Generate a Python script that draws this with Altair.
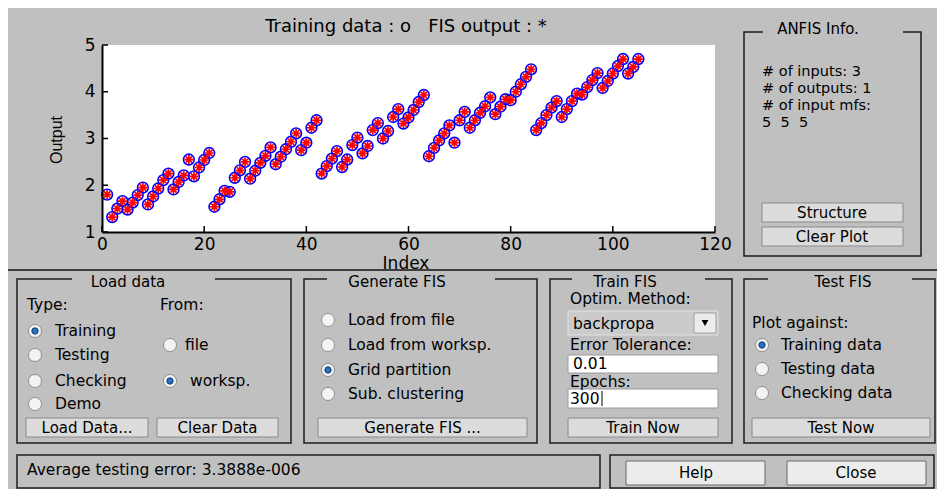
import altair as alt
import pandas as pd

# ---------------- chart data ----------------
sample_index = list(range(1, 106))
training_output = [
    1.80, 1.32, 1.50, 1.66, 1.48, 1.63, 1.79, 1.95, 1.59, 1.76,
    1.93, 2.11, 2.25, 1.91, 2.07, 2.21, 2.55, 2.19, 2.38, 2.54, 2.69,
    1.54, 1.70, 1.88, 1.86, 2.16, 2.32, 2.50, 2.14, 2.31, 2.48,
    2.63, 2.81, 2.45, 2.61, 2.77, 2.93, 3.11, 2.75, 2.91, 3.23, 3.39,
    2.25, 2.41, 2.57, 2.73, 2.39, 2.55, 2.86, 3.02, 2.68, 2.84,
    3.18, 3.33, 3.00, 3.16, 3.46, 3.63, 3.32, 3.45, 3.61, 3.78, 3.93,
    2.62, 2.80, 2.96, 3.11, 3.28, 2.91, 3.39, 3.57, 3.23, 3.39,
    3.55, 3.69, 3.88, 3.52, 3.68, 3.84, 3.82, 4.00, 4.16, 4.32, 4.48,
    3.18, 3.33, 3.50, 3.66, 3.80, 3.46, 3.63, 3.80, 3.96, 3.94,
    4.10, 4.25, 4.40, 4.08, 4.23, 4.39, 4.55, 4.70, 4.39, 4.53, 4.70,
]
fis_output = list(training_output)   # FIS output lies on the training data
x_ticks = [0, 20, 40, 60, 80, 100, 120]
y_ticks = [1, 2, 3, 4, 5]

chart_title = "Training data : o\u00a0\u00a0\u00a0FIS output : *"
x_title = "Index"
y_title = "Output"
info_lines = ["# of inputs: 3", "# of outputs: 1", "# of input mfs:", "5\u00a0\u00a05\u00a0\u00a05"]
status_text = "Average testing error: 3.3888e-006"

# ---------------- layout (pixel positions of the GUI) ----------------
PL, PT, PW, PH = 102, 45, 613, 187
GRAY = "#c0c0c0"
FONT = "DejaVu Sans"

SX = alt.Scale(domain=[0, 120], nice=False, zero=False)
SY = alt.Scale(domain=[1, 5], nice=False, zero=False)
DX = alt.Scale(domain=[0, 945], range=[-PL, 945 - PL], nice=False, zero=False)
DY = alt.Scale(domain=[0, 497], range=[-PT, 497 - PT], nice=False, zero=False)


def rects(rows, **mark):
    df = pd.DataFrame(rows, columns=["x", "y", "x2", "y2"])
    return alt.Chart(df).mark_rect(**mark).encode(
        x=alt.X("x:Q", scale=DX, axis=None), x2="x2:Q",
        y=alt.Y("y:Q", scale=DY, axis=None), y2="y2:Q")


def texts(rows, align="left", size=15, font=FONT, **mark):
    df = pd.DataFrame(rows, columns=["t", "x", "y"])
    return alt.Chart(df).mark_text(align=align, baseline="middle", font=font,
                                   fontSize=size, color="#000000", **mark).encode(
        x=alt.X("x:Q", scale=DX, axis=None),
        y=alt.Y("y:Q", scale=DY, axis=None),
        text="t:N")


def points(rows, **mark):
    df = pd.DataFrame(rows, columns=["x", "y"])
    return alt.Chart(df).mark_point(**mark).encode(
        x=alt.X("x:Q", scale=DX, axis=None),
        y=alt.Y("y:Q", scale=DY, axis=None))


bg = rects([(8, 8, 937, 489)], color=GRAY)
sep = rects([(8, 269, 937, 271)], color="#3e3e3e")
plot_bg = rects([(PL, PT, PL + PW, PT + PH)], color="#ffffff")
frames = rects([(17, 279, 291, 443), (304, 279, 537, 443), (550, 279, 732, 443),
                (744, 279, 935, 443), (744, 32, 921, 256),
                (17, 455, 600, 488), (610, 455, 934, 488)],
               fillOpacity=0, stroke="#1c1c1c", strokeWidth=1.5)
gaps = rects([(72, 275, 215, 283), (327, 275, 495, 283), (572, 275, 705, 283),
              (768, 275, 912, 283), (763, 28, 903, 36)], color=GRAY)
buttons = rects([(26, 418, 148, 437), (157, 418, 278, 437), (318, 418, 527, 437),
                 (568, 418, 718, 437), (752, 418, 930, 437),
                 (762, 203, 903, 222), (762, 227, 903, 246)],
                fill="#dcdcdc", stroke="#8a8a8a", strokeWidth=1)
big_buttons = rects([(626, 461, 765, 485), (787, 461, 926, 485)],
                    fill="#ececec", stroke="#6a6a6a", strokeWidth=1)
dropdown = rects([(568, 311, 718, 335)], fill="#cbcbcb", stroke="#e2e2e2", strokeWidth=1)
drop_btn = rects([(694, 313, 716, 333)], fill="#ececec", stroke="#a0a0a0", strokeWidth=1)
edits = rects([(568, 355, 718, 373), (568, 389, 718, 408)],
              fill="#ffffff", stroke="#9a9a9a", strokeWidth=1)
cursor = rects([(601.5, 391, 602.5, 406)], color="#000000")
arrow = points([(705, 323)], shape="triangle-down", size=45, filled=True,
               color="#000000", opacity=1)

radio_all = [(35, 331), (35, 355), (35, 381), (35, 404), (170, 345), (170, 381),
             (328, 320), (328, 345), (328, 370), (328, 394),
             (762, 345), (762, 369), (762, 393)]
radio_on = [(35, 331), (170, 381), (328, 370), (762, 345)]
radios = points(radio_all, shape="circle", size=170, filled=True, fill="#f3f3f3",
                stroke="#8f8f8f", strokeWidth=1, opacity=1)
radio_dots = points(radio_on, shape="circle", size=40, filled=True, fill="#2a6fc0",
                    stroke="#0d3b75", strokeWidth=1, opacity=1)

center_text = texts([
    ("Load data", 128, 282), ("Generate FIS", 397, 282), ("Train FIS", 625, 282),
    ("Test FIS", 843, 282), ("ANFIS Info.", 818, 29),
    ("Load Data...", 87, 428), ("Clear Data", 217.5, 428),
    ("Generate FIS ...", 422.5, 428), ("Train Now", 643, 428),
    ("Test Now", 841, 428), ("Structure", 832, 212.5), ("Clear Plot", 832, 236.5),
    ("Help", 696, 473), ("Close", 856, 473),
], align="center")
left_text = texts([
    ("Type:", 27, 305), ("From:", 160, 305),
    ("Training", 55, 331), ("Testing", 55, 355), ("Checking", 55, 381), ("Demo", 55, 404),
    ("file", 185, 345), ("worksp.", 190, 381),
    ("Load from file", 348, 320), ("Load from worksp.", 348, 345),
    ("Grid partition", 348, 370), ("Sub. clustering", 348, 394),
    ("Optim. Method:", 570, 299), ("backpropa", 573, 324),
    ("Error Tolerance:", 570, 345), ("0.01", 573, 364),
    ("Epochs:", 570, 382), ("300", 570, 398.5),
    ("Plot against:", 752, 323), ("Training data", 781, 345),
    ("Testing data", 781, 369), ("Checking data", 781, 393),
    (status_text, 27, 470),
], size=15.5)
info_text = texts([(info_lines[0], 762, 72), (info_lines[1], 762, 89),
                   (info_lines[2], 762, 106), (info_lines[3], 762, 123)], size=14.5)
title_text = texts([(chart_title, 406, 27)], align="center", size=18)
xlabel_text = texts([(x_title, 406, 264)], align="center", size=17)
ylabel_text = texts([(y_title, 57, 140)], align="center", size=16,
                    font="Liberation Sans", angle=270)

# ---------------- the scatter plot ----------------
pts = pd.DataFrame({"idx": sample_index, "train": training_output, "fis": fis_output})
axis_common = dict(ticks=False, grid=False, title=None, domainColor="#000000",
                   domainWidth=2, labelFont=FONT, labelFontSize=17,
                   labelColor="#000000", labelFlush=False, labelOverlap=False,
                   zindex=1, format="d")
circles = alt.Chart(pts).mark_point(shape="circle", filled=False, size=115,
                                    strokeWidth=1.6, color="#0000ff", opacity=1).encode(
    x=alt.X("idx:Q", scale=SX,
            axis=alt.Axis(values=x_ticks, orient="bottom", labelPadding=4, **axis_common)),
    y=alt.Y("train:Q", scale=SY,
            axis=alt.Axis(values=y_ticks, orient="left", labelPadding=7, **axis_common)))
STAR = "M-1,0L1,0M0,-1L0,1M-0.7,-0.7L0.7,0.7M-0.7,0.7L0.7,-0.7"
stars = alt.Chart(pts).mark_point(shape=STAR, filled=False, size=80,
                                  strokeWidth=1.7, color="#ff0000", opacity=1).encode(
    x=alt.X("idx:Q", scale=SX, axis=None),
    y=alt.Y("fis:Q", scale=SY, axis=None))

xt = alt.Chart(pd.DataFrame({"t": x_ticks})).mark_rule(color="#000000", strokeWidth=1.5).encode(
    x=alt.X("t:Q", scale=SX, axis=None), y=alt.value(PH), y2=alt.value(PH - 6))
yt = alt.Chart(pd.DataFrame({"t": y_ticks})).mark_rule(color="#000000", strokeWidth=1.5).encode(
    y=alt.Y("t:Q", scale=SY, axis=None), x=alt.value(0), x2=alt.value(6))

chart = alt.layer(
    bg, sep, plot_bg, frames, gaps, buttons, big_buttons, dropdown, drop_btn, edits,
    cursor, arrow, radios, radio_dots, center_text, left_text, info_text, title_text,
    xlabel_text, ylabel_text, circles, stars, xt, yt,
).resolve_scale(x="independent", y="independent").properties(
    width=PW, height=PH, padding=0, background=GRAY
).configure_view(stroke=None)

chart.save("out.html", embed_options={"renderer": "svg", "actions": False})
